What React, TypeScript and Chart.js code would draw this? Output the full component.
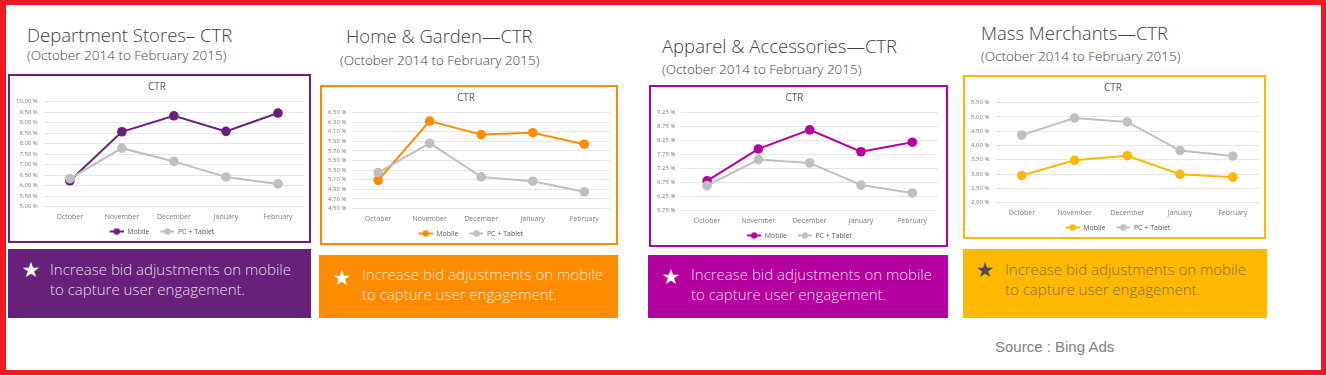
import React, { useEffect, useRef } from 'react';
import { Chart, registerables } from 'chart.js';

Chart.register(...registerables);
Chart.defaults.font.family = "'Open Sans', 'Noto Sans', sans-serif";

// ---------- data ----------
const months = ['October', 'November', 'December', 'January', 'February'];
const seriesLabels = ['Mobile', 'PC + Tablet'];

const deptMobile = [6.23, 8.56, 9.32, 8.58, 9.45];
const deptPc = [6.33, 7.78, 7.15, 6.41, 6.08];
const deptAxis = [5, 10, 0.5]; // min, max, step

const homeMobile = [5.09, 6.32, 6.04, 6.08, 5.84];
const homePc = [5.25, 5.86, 5.16, 5.07, 4.85];
const homeAxis = [4.5, 6.5, 0.2];

const apparelMobile = [6.81, 7.95, 8.63, 7.85, 8.19];
const apparelPc = [6.64, 7.57, 7.45, 6.66, 6.38];
const apparelAxis = [5.75, 9.25, 0.5];

const massMobile = [2.95, 3.48, 3.64, 2.99, 2.89];
const massPc = [4.36, 4.96, 4.82, 3.82, 3.63];
const massAxis = [2, 5.5, 0.5];

const panelTitles = ['Department Stores\u2013 CTR', 'Home & Garden\u2014CTR', 'Apparel & Accessories\u2014CTR', 'Mass Merchants\u2014CTR'];
const periodText = '(October 2014 to February 2015)';
const tipLines = ['Increase bid adjustments on mobile', 'to capture user engagement.'];
const sourceText = 'Source : Bing Ads';

// ---------- styles ----------
const PURPLE = '#68217A';
const ORANGE = '#FF8C00';
const MAGENTA = '#B4009E';
const YELLOW = '#FFB900';
const GRAY = '#BFBFBF';

type Spec = {
  left: number; top: number; width: number; height: number;
  color: string; mobile: number[]; pc: number[]; axis: number[]; padRight: number;
};

function makeIcon(color: string) {
  const c = document.createElement('canvas');
  c.width = 24; c.height = 8;
  const g = c.getContext('2d')!;
  g.strokeStyle = color; g.lineWidth = 2;
  g.beginPath(); g.moveTo(10, 4); g.lineTo(24, 4); g.stroke();
  g.fillStyle = color;
  g.beginPath(); g.arc(17, 4, 3.2, 0, Math.PI * 2); g.fill();
  return c;
}

function ChartPanel({ spec }: { spec: Spec }) {
  const ref = useRef<HTMLCanvasElement>(null);
  const innerW = spec.width - 4;
  const innerH = spec.height - 4 + 4;
  useEffect(() => {
    const icons = [makeIcon(spec.color), makeIcon(GRAY)];
    const chart = new Chart(ref.current!, {
      type: 'line',
      data: {
        labels: months,
        datasets: [
          {
            label: seriesLabels[0], data: spec.mobile, borderColor: spec.color, backgroundColor: spec.color,
            borderWidth: 2, pointRadius: 4.8, pointBorderWidth: 0, pointHoverRadius: 4.8, order: 1,
          },
          {
            label: seriesLabels[1], data: spec.pc, borderColor: GRAY, backgroundColor: GRAY,
            borderWidth: 2, pointRadius: 4.8, pointBorderWidth: 0, pointHoverRadius: 4.8, order: 0,
          },
        ],
      },
      options: {
        responsive: false,
        animation: false,
        layout: { padding: { left: 0, right: spec.padRight, top: 0, bottom: 0 } },
        plugins: {
          title: {
            display: true, text: 'CTR', color: '#595959',
            font: { size: 10, weight: 'normal' }, padding: { top: 5, bottom: 8.5 },
          },
          legend: {
            position: 'bottom',
            labels: {
              usePointStyle: true, pointStyleWidth: 24, boxHeight: 7,
              font: { size: 7 }, color: '#595959', padding: 1,
              sort: (a: any, b: any) => a.datasetIndex - b.datasetIndex,
              generateLabels: (ch: any) => {
                const items = Chart.defaults.plugins.legend.labels.generateLabels(ch);
                return items.map((it: any) => ({ ...it, pointStyle: icons[it.datasetIndex] }));
              },
            },
          },
          tooltip: { enabled: false },
        },
        scales: {
          x: {
            offset: true,
            grid: { display: false, drawTicks: false },
            border: { display: false },
            ticks: { font: { size: 7 }, color: '#7a7a7a', padding: 6, maxRotation: 0, autoSkip: false },
          },
          y: {
            min: spec.axis[0], max: spec.axis[1],
            grid: { color: '#E6E6E6', drawTicks: false, lineWidth: 1 },
            border: { display: false },
            ticks: {
              stepSize: spec.axis[2], font: { size: 6 }, color: '#7a7a7a', padding: 6, autoSkip: false,
              callback: (v: any) => Number(v).toFixed(2) + ' %',
            },
          },
        },
      } as any,
    });
    return () => chart.destroy();
  }, []);
  return (
    <>
      <div style={{
        position: 'absolute', left: spec.left, top: spec.top, width: spec.width, height: spec.height,
        boxSizing: 'border-box', border: `2px solid ${spec.color}`, background: '#fff',
      }} />
      <canvas ref={ref} width={innerW} height={innerH}
        style={{ position: 'absolute', left: spec.left + 2, top: spec.top + 2, width: innerW, height: innerH }} />
    </>
  );
}

function Heading({ x, y, sx, sy, text }: { x: number; y: number; sx: number; sy: number; text: string }) {
  return (
    <>
      <div style={{ position: 'absolute', left: x, top: y - 12, height: 24, lineHeight: '24px', fontSize: 18.5, fontWeight: 300, color: '#404040', whiteSpace: 'nowrap', fontFamily: "'Open Sans', sans-serif" }}>{text}</div>
      <div style={{ position: 'absolute', left: sx, top: sy - 9, height: 18, lineHeight: '18px', fontSize: 13.5, fontWeight: 300, color: '#404040', whiteSpace: 'nowrap', fontFamily: "'Open Sans', sans-serif" }}>{periodText}</div>
    </>
  );
}

function Tip({ left, top, width, height, bg, starX, starY, textX, textY, starColor, textColor }: any) {
  return (
    <>
      <div style={{ position: 'absolute', left, top, width, height, background: bg }} />
      <div style={{ position: 'absolute', left: starX - 12, top: starY - 12, width: 24, height: 24, lineHeight: '24px', textAlign: 'center', fontSize: 21, color: starColor, fontFamily: "'DejaVu Sans', sans-serif" }}>{'\u2605'}</div>
      <div style={{ position: 'absolute', left: textX, top: textY - 10, lineHeight: '20px', fontSize: 15, fontWeight: 300, color: textColor, whiteSpace: 'nowrap', fontFamily: "'Open Sans', sans-serif" }}>
        <div>{tipLines[0]}</div>
        <div>{tipLines[1]}</div>
      </div>
    </>
  );
}

const specs: Spec[] = [
  { left: 8, top: 74, width: 303, height: 169, color: PURPLE, mobile: deptMobile, pc: deptPc, axis: deptAxis, padRight: 5 },
  { left: 320, top: 85, width: 298, height: 160, color: ORANGE, mobile: homeMobile, pc: homePc, axis: homeAxis, padRight: 6 },
  { left: 649, top: 85, width: 299, height: 162, color: MAGENTA, mobile: apparelMobile, pc: apparelPc, axis: apparelAxis, padRight: 8 },
  { left: 963, top: 75, width: 303, height: 164, color: YELLOW, mobile: massMobile, pc: massPc, axis: massAxis, padRight: 3 },
];

export default function App() {
  return (
    <div style={{ position: 'absolute', left: 0, top: 0, width: 1326, height: 375, background: '#fff', overflow: 'hidden' }}>
      <Heading x={27} y={35} sx={27} sy={55} text={panelTitles[0]} />
      <Heading x={346} y={36} sx={340} sy={60} text={panelTitles[1]} />
      <Heading x={662} y={46} sx={662} sy={69} text={panelTitles[2]} />
      <Heading x={981} y={33} sx={981} sy={56} text={panelTitles[3]} />

      {specs.map((s, i) => <ChartPanel key={i} spec={s} />)}

      <Tip left={8} top={249} width={303} height={69} bg={PURPLE} starX={31} starY={270} textX={50} textY={269} starColor="#fff" textColor="rgba(255,255,255,0.85)" />
      <Tip left={319} top={255} width={299} height={63} bg={ORANGE} starX={342} starY={278} textX={362} textY={274} starColor="#fff" textColor="rgba(255,255,255,0.85)" />
      <Tip left={648} top={255} width={300} height={63} bg={MAGENTA} starX={671} starY={277} textX={691} textY={274} starColor="#fff" textColor="rgba(255,255,255,0.85)" />
      <Tip left={963} top={249} width={304} height={69} bg={YELLOW} starX={985} starY={270} textX={1005} textY={269} starColor="#4a4a4a" textColor="#85703a" />

      <div style={{ position: 'absolute', left: 995, top: 337, lineHeight: '20px', fontSize: 15, color: '#7f7f7f', fontFamily: "'Liberation Sans', Arial, sans-serif", whiteSpace: 'nowrap' }}>{sourceText}</div>

      <div style={{ position: 'absolute', left: 0, top: 0, width: 1326, height: 375, boxSizing: 'border-box', borderStyle: 'solid', borderColor: '#ED1C24', borderWidth: '5px 5px 5px 6px', pointerEvents: 'none' }} />
    </div>
  );
}
